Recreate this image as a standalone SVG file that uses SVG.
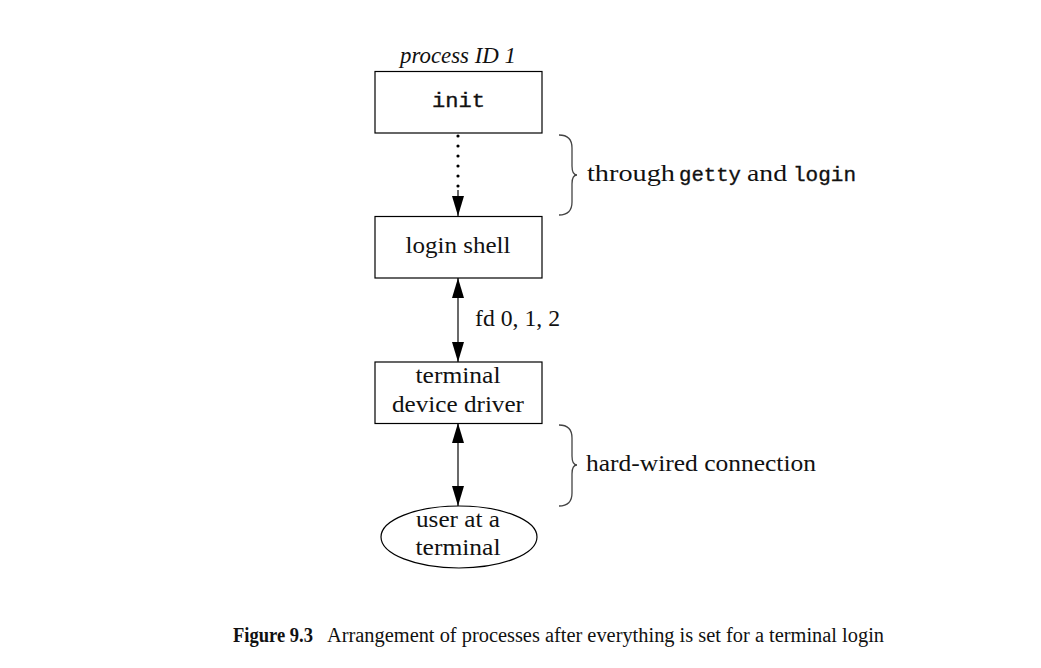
<svg xmlns="http://www.w3.org/2000/svg" width="1041" height="668" viewBox="0 0 1041 668">
  <style>
    .box { fill: #fff; stroke: #000; stroke-width: 1.2; }
    .serif { font-family: "Liberation Serif", "Times New Roman", serif; font-size: 23px; fill: #111; }
    .mono { font-family: "Liberation Mono", "Courier New", monospace; font-size: 21px; fill: #111; stroke: #111; stroke-width: 0.35; }
    .italic { font-style: italic; }
    .link { stroke: #444; stroke-width: 1.6; fill: none; }
    .dots { stroke: #000; stroke-width: 3.2; stroke-linecap: round; stroke-dasharray: 0 10; fill: none; }
    .brace { stroke: #444; stroke-width: 1.3; fill: none; }
    .caption { font-family: "Liberation Serif", "Times New Roman", serif; font-size: 20px; fill: #111; }
  </style>
  <defs>
    <marker id="arrow" viewBox="0 0 20 12" refX="20" refY="6" markerWidth="20" markerHeight="12" markerUnits="userSpaceOnUse" orient="auto-start-reverse">
      <path d="M0,0 L20,6 L0,12 Z" fill="#000"/>
    </marker>
  </defs>

  <!-- connectors between the process boxes -->
  <g id="connectors">
    <line class="dots" x1="458" y1="136" x2="458" y2="190"/>
    <line class="link" x1="458" y1="190" x2="458" y2="216" marker-end="url(#arrow)"/>
    <line class="link" x1="458" y1="278" x2="458" y2="362" marker-start="url(#arrow)" marker-end="url(#arrow)"/>
    <line class="link" x1="458" y1="423" x2="458" y2="506" marker-start="url(#arrow)" marker-end="url(#arrow)"/>
    <text class="serif" x="475" y="326" textLength="85" lengthAdjust="spacingAndGlyphs">fd 0, 1, 2</text>
  </g>

  <!-- init, process ID 1 -->
  <g id="init">
    <text class="serif italic" x="458" y="63" text-anchor="middle" textLength="116" lengthAdjust="spacingAndGlyphs">process ID 1</text>
    <rect class="box" x="375" y="71.5" width="167" height="61.5"/>
    <text class="mono" x="458.5" y="107" text-anchor="middle" textLength="53" lengthAdjust="spacingAndGlyphs">init</text>
  </g>

  <!-- login shell -->
  <g id="login-shell">
    <rect class="box" x="375" y="216.5" width="167" height="61.5"/>
    <text class="serif" x="458" y="253" text-anchor="middle" textLength="105" lengthAdjust="spacingAndGlyphs">login shell</text>
  </g>

  <!-- terminal device driver -->
  <g id="terminal-driver">
    <rect class="box" x="375" y="362" width="167" height="61.5"/>
    <text class="serif" x="458" y="383" text-anchor="middle" textLength="85" lengthAdjust="spacingAndGlyphs">terminal</text>
    <text class="serif" x="458" y="412" text-anchor="middle" textLength="132" lengthAdjust="spacingAndGlyphs">device driver</text>
  </g>

  <!-- user at a terminal -->
  <g id="user">
    <ellipse class="box" cx="459" cy="537" rx="78" ry="31"/>
    <text class="serif" x="458" y="527" text-anchor="middle" textLength="84" lengthAdjust="spacingAndGlyphs">user at a</text>
    <text class="serif" x="458" y="555" text-anchor="middle" textLength="85" lengthAdjust="spacingAndGlyphs">terminal</text>
  </g>

  <!-- brace: through getty and login -->
  <g id="brace-getty">
    <path class="brace" d="M559,135 Q572,135 572,148 L572,166 Q572,175 577,175 Q572,175 572,184 L572,202 Q572,215 559,215"/>
    <text class="serif" x="587" y="181" textLength="88" lengthAdjust="spacingAndGlyphs">through</text>
    <text class="mono" x="679" y="181" textLength="62" lengthAdjust="spacingAndGlyphs">getty</text>
    <text class="serif" x="747" y="181" textLength="40" lengthAdjust="spacingAndGlyphs">and</text>
    <text class="mono" x="793" y="181" textLength="63" lengthAdjust="spacingAndGlyphs">login</text>
  </g>

  <!-- brace: hard-wired connection -->
  <g id="brace-wire">
    <path class="brace" d="M559,425 Q572,425 572,438 L572,456 Q572,465 577,465 Q572,465 572,474 L572,493 Q572,506 559,506"/>
    <text class="serif" x="586" y="471" textLength="230" lengthAdjust="spacingAndGlyphs">hard-wired connection</text>
  </g>

  <!-- figure caption -->
  <g id="caption">
    <text class="caption" x="233" y="642" font-weight="bold" textLength="80" lengthAdjust="spacingAndGlyphs">Figure 9.3</text>
    <text class="caption" x="327" y="642" textLength="557" lengthAdjust="spacingAndGlyphs">Arrangement of processes after everything is set for a terminal login</text>
  </g>
</svg>
